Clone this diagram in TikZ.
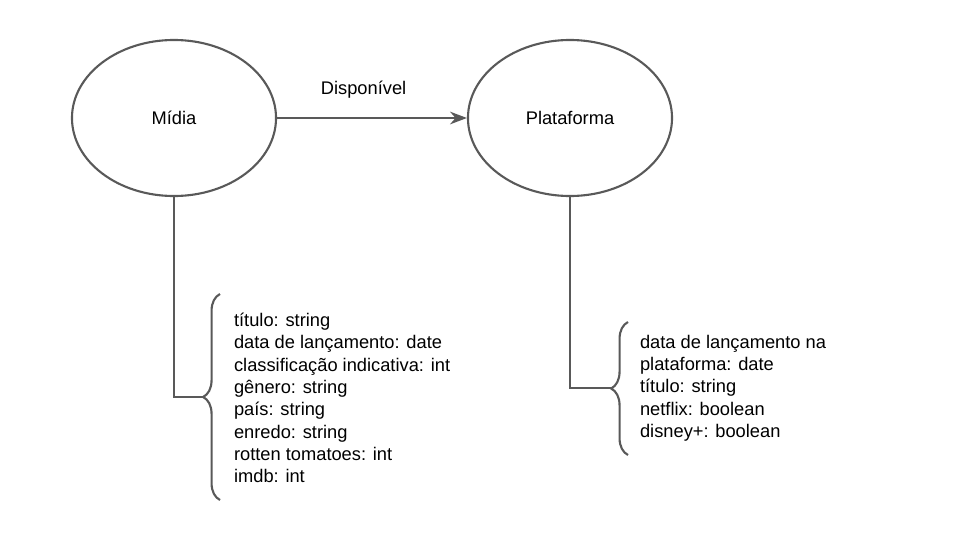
\documentclass[tikz,border=0pt]{standalone}
\usepackage{fontspec}
\setmainfont{Liberation Sans}
\usetikzlibrary{shapes.geometric,arrows.meta,decorations.pathreplacing}

\definecolor{linegray}{HTML}{595959}
\def\px{0.025}

\begin{document}
\begin{tikzpicture}[x=\px cm,y=-\px cm,draw=linegray,line width=1.5pt]
    \tikzstyle{entity}=[ellipse,draw=linegray,minimum width=5.1cm,minimum height=3.9cm,inner sep=0pt,font=\fontsize{13}{15}\selectfont]
    \tikzstyle{attrs}=[anchor=west,align=left,inner sep=0pt,font=\fontsize{13}{15.9}\selectfont]
    \tikzstyle{curly}=[decorate,decoration={brace,amplitude=12pt}]

    \useasboundingbox (0,0) rectangle (960,540);

    \node[entity] (midia) at (174,118) {Mídia};
    \node[entity] (plataforma) at (570,118) {Plataforma};

    \draw[-{Stealth[length=12pt,width=9pt]}] (midia) -- node[above=10pt,xshift=-6pt,draw=none,font=\fontsize{13}{15}\selectfont] (disp) {Disponível} (plataforma);

    % atributos de midia
    \node[attrs] (midia-attr) at (233,398) {título: string\\data de lançamento: date\\classificação indicativa: int\\gênero: string\\país: string\\enredo: string\\rotten tomatoes: int\\imdb: int};
    \coordinate (midia-top) at (220,294);
    \coordinate (midia-bot) at (220,500);
    \coordinate (midia-tip) at (203,397);
    \draw[curly] (midia-bot) -- (midia-top);
    \draw (midia.south) |- (midia-tip);

    % atributos de plataforma
    \node[attrs] (plat-attr) at (639,388) {data de lançamento na\\plataforma: date\\título: string\\netflix: boolean\\disney+: boolean};
    \coordinate (plat-top) at (628,322);
    \coordinate (plat-bot) at (628,455);
    \coordinate (plat-tip) at (611,388);
    \draw[curly] (plat-bot) -- (plat-top);
    \draw (plataforma.south) |- (plat-tip);
\end{tikzpicture}
\end{document}
